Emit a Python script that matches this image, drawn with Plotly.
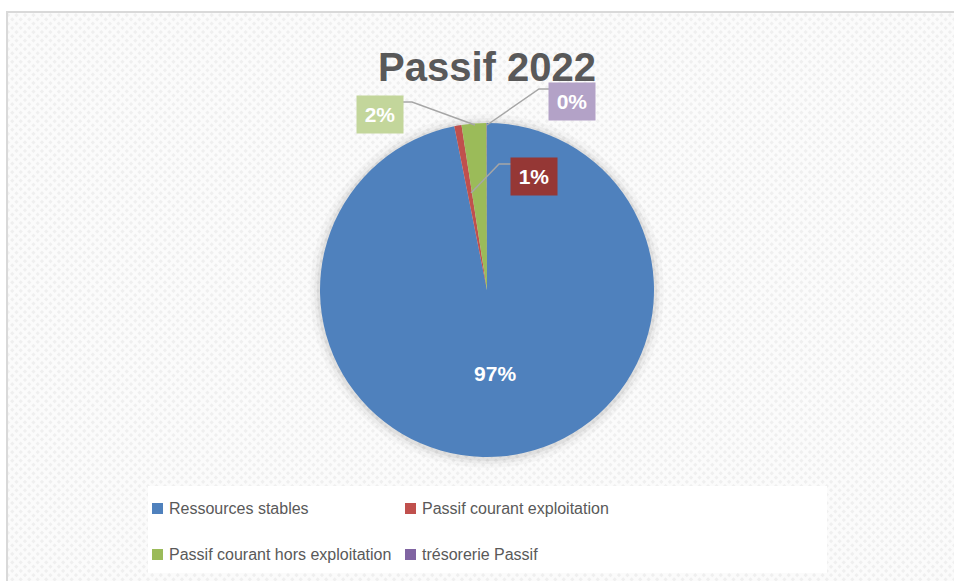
import base64
import plotly.graph_objects as go

# data
labels = ["Ressources stables", "Passif courant exploitation",
          "Passif courant hors exploitation", "trésorerie Passif"]
values = [96.86, 0.70, 2.40, 0.04]
colors = ["#4F81BD", "#C0504D", "#9BBB59", "#8064A2"]
box_colors = [None, "#953735", "#C3D69B", "#B3A2C7"]
title = "Passif 2022"

W, H = 954, 581


def px(x):
    return x / W


def py(y):
    return 1 - y / H


total = sum(values)
pct = ["%d%%" % round(v / total * 100) for v in values]

# faint diagonal texture like the Excel chart area
svg = f"""<svg xmlns='http://www.w3.org/2000/svg' width='{W}' height='{H}'>
<defs><pattern id='p' width='6' height='6' patternUnits='userSpaceOnUse' patternTransform='rotate(45)'>
<rect width='6' height='6' fill='#fbfbfb'/><rect width='3' height='3' fill='#efefef'/></pattern></defs>
<rect width='{W}' height='{H}' fill='url(#p)'/></svg>"""
bg_src = "data:image/svg+xml;base64," + base64.b64encode(svg.encode()).decode()

fig = go.Figure()

fig.add_trace(go.Pie(
    labels=labels,
    values=values,
    sort=False,
    direction="clockwise",
    rotation=0,
    marker=dict(colors=colors, line=dict(width=0)),
    texttemplate=[pct[0], "", "", ""],
    textposition="inside",
    insidetextfont=dict(family="Liberation Sans", size=21, color="white", weight="bold"),
    hoverinfo="label+percent",
    showlegend=False,
    domain=dict(x=[px(320), px(654)], y=[py(457), py(123)]),
))

shapes = []
# soft shadow under pie
for k, a in [(10, 0.025), (6, 0.035), (3, 0.05)]:
    shapes.append(dict(type="circle", xref="paper", yref="paper", layer="below",
                       x0=px(487 - 167 - k), x1=px(487 + 167 + k),
                       y0=py(291 + 167 + k), y1=py(291 - 167 - k),
                       fillcolor="rgba(0,0,0,%s)" % a, line=dict(width=0)))

# frame
shapes.append(dict(type="rect", xref="paper", yref="paper",
                   x0=px(7), x1=px(W + 5), y0=py(H + 5), y1=py(12),
                   line=dict(color="#d9d9d9", width=2), fillcolor="rgba(0,0,0,0)", layer="below"))

# legend box
shapes.append(dict(type="rect", xref="paper", yref="paper",
                   x0=px(148), x1=px(827), y0=py(573), y1=py(486),
                   fillcolor="white", line=dict(width=0), layer="below"))

# leader lines for small slices
leaders = {
    1: [(511, 164), (499, 164), (471, 193)],
    2: [(403, 102), (412, 102), (475, 125)],
    3: [(549, 89), (539, 89), (487, 125)],
}
for i, pts in leaders.items():
    path = "M" + " L".join("%f,%f" % (px(x), py(y)) for x, y in pts)
    shapes.append(dict(type="path", xref="paper", yref="paper", path=path,
                       line=dict(color="#A6A6A6", width=1.5)))

annotations = []
box_pos = {1: (534, 176), 2: (380, 115), 3: (572, 101)}
for i, (cx, cy) in box_pos.items():
    annotations.append(dict(
        x=px(cx), y=py(cy), xref="paper", yref="paper", showarrow=False,
        xanchor="center", yanchor="middle",
        text=pct[i], width=40, height=31, bgcolor=box_colors[i], borderpad=3,
        font=dict(family="Liberation Sans", size=21, color="white", weight="bold"),
    ))

# legend drawn by hand to match the Excel layout
leg_x = [152, 405]
leg_y = [508, 554]
for i, name in enumerate(labels):
    lx = leg_x[i % 2]
    ly = leg_y[i // 2]
    shapes.append(dict(type="rect", xref="paper", yref="paper",
                       x0=px(lx), x1=px(lx + 11), y0=py(ly + 6), y1=py(ly - 5),
                       fillcolor=colors[i], line=dict(width=0)))
    annotations.append(dict(
        x=px(lx + 15), y=py(ly), xref="paper", yref="paper", showarrow=False,
        xanchor="left", yanchor="middle", text=name,
        font=dict(family="Liberation Sans", size=16, color="#595959"),
    ))

annotations.append(dict(
    x=px(487), y=py(67), xref="paper", yref="paper", showarrow=False,
    xanchor="center", yanchor="middle",
    text=title, font=dict(family="Liberation Sans", size=40, color="#595959", weight="bold"),
))

fig.update_layout(
    width=W, height=H,
    margin=dict(l=0, r=0, t=0, b=0),
    paper_bgcolor="white",
    shapes=shapes,
    annotations=annotations,
    images=[dict(source=bg_src, xref="paper", yref="paper", x=px(8), y=py(13),
                 sizex=1, sizey=1, sizing="stretch", xanchor="left", yanchor="top",
                 layer="below")],
)

# page body margin would shift the chart by 8px
fig.write_html("out.html", config={"displayModeBar": False},
               post_script="document.body.style.margin='0';")
